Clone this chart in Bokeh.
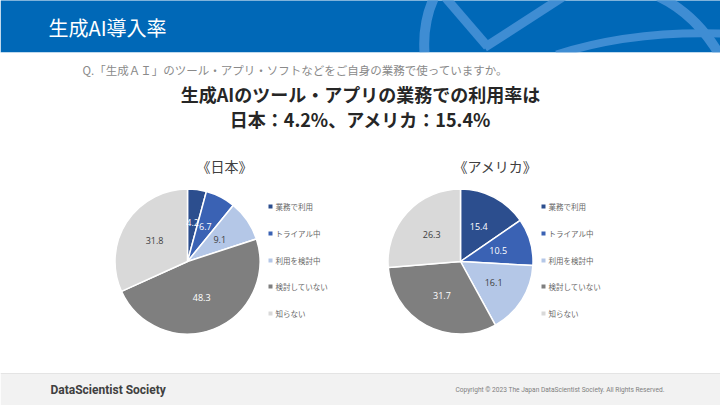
import math
from bokeh.plotting import figure
from bokeh.models import Range1d, ColumnDataSource
from bokeh.core.properties import value
from bokeh.embed import file_html
from bokeh.resources import INLINE

# ---------------- data ----------------
categories = ["業務で利用", "トライアル中", "利用を検討中", "検討していない", "知らない"]
japan_values = [4.2, 6.7, 9.1, 48.3, 31.8]
usa_values = [15.4, 10.5, 16.1, 31.7, 26.3]
slice_colors = ["#2C4E8E", "#3A62B4", "#B4C7E7", "#7F7F7F", "#D9D9D9"]
label_colors = ["#FFFFFF", "#FFFFFF", "#404040", "#FFFFFF", "#404040"]

page_title = "生成AI導入率"
question = "Q.「生成ＡＩ」のツール・アプリ・ソフトなどをご自身の業務で使っていますか。"
headline1 = "生成AIのツール・アプリの業務での利用率は"
headline2 = "日本：4.2%、アメリカ：15.4%"
pie_titles = ["《日本》", "《アメリカ》"]
footer_left = "DataScientist Society"
footer_right = "Copyright © 2023  The Japan DataScientist Society. All Rights Reserved."

JP = value("Noto Sans CJK JP")
NUM = value("Open Sans")

# reference-pixel coordinates -> data coordinates (y measured downward)
def Y(v):
    return 405 - v

p = figure(width=720, height=405, x_range=Range1d(0, 720), y_range=Range1d(0, 405),
           output_backend="svg", toolbar_location=None, min_border=0)
p.axis.visible = False
p.grid.visible = False
p.outline_line_color = None
p.background_fill_color = "white"
p.border_fill_color = "white"

# ---------------- header ----------------
p.quad(left=[0], right=[720], top=[Y(-2)], bottom=[Y(52)], fill_color="#0068B7", line_color=None)
band = "#3F8DD3"
p.quadratic(x0=[434], y0=[Y(-4)], cx=[422], cy=[Y(22)], x1=[424], y1=[Y(52)],
            line_color=band, line_width=10)
p.segment(x0=[444], y0=[Y(-4)], x1=[487], y1=[Y(46)], line_color=band, line_width=9)
p.segment(x0=[484], y0=[Y(47)], x1=[563], y1=[Y(-4)], line_color=band, line_width=9)
p.quadratic(x0=[556], y0=[Y(54)], cx=[630], cy=[Y(30)], x1=[722], y1=[Y(33)],
            line_color=band, line_width=8)
p.quadratic(x0=[658], y0=[Y(-4)], cx=[696], cy=[Y(14)], x1=[720], y1=[Y(56)],
            line_color=band, line_width=10)
p.quad(left=[0], right=[720], top=[Y(52)], bottom=[Y(60)], fill_color="white", line_color=None)
p.text(x=[48], y=[Y(27)], text=[page_title], text_font=JP, text_font_size="20px",
       text_color="white", text_align="left", text_baseline="middle")

# ---------------- question & headline ----------------
p.text(x=[82], y=[Y(69)], text=[question], text_font=JP, text_font_size="11.5px",
       text_color="#8A8A8A", text_align="left", text_baseline="middle")
p.text(x=[360, 360], y=[Y(93), Y(118)], text=[headline1, headline2], text_font=JP,
       text_font_size="18px", text_font_style="bold", text_color="#262626",
       text_align="center", text_baseline="middle")

# ---------------- pies ----------------
R = 72.5
def draw_pie(cx, cy, vals, title, tx, leg_x):
    total = sum(vals)
    starts, ends, lx, ly = [], [], [], []
    cum = 0.0
    for v in vals:
        a0 = math.pi / 2 - 2 * math.pi * cum / total
        cum += v
        a1 = math.pi / 2 - 2 * math.pi * cum / total
        mid = (a0 + a1) / 2
        starts.append(a0)
        ends.append(a1)
        lx.append(cx + 0.54 * R * math.cos(mid))
        ly.append(Y(cy) + 0.54 * R * math.sin(mid))
    src = ColumnDataSource(dict(start=starts, end=ends, color=slice_colors,
                                lx=lx, ly=ly, lab=[f"{v:.1f}" for v in vals],
                                lc=label_colors))
    p.wedge(x=cx, y=Y(cy), radius=R, start_angle="start", end_angle="end",
            direction="clock", fill_color="color", line_color="white",
            line_width=1.5, source=src)
    p.text(x="lx", y="ly", text="lab", text_color="lc", text_font=NUM,
           text_font_size="9px", text_align="center", text_baseline="middle", source=src)
    p.text(x=[tx], y=[Y(165)], text=[title], text_font=JP, text_font_size="14px",
           text_color="#404040", text_align="center", text_baseline="middle")
    rows = [206, 233, 260, 286, 313]
    p.scatter(x=[leg_x] * 5, y=[Y(r) for r in rows], marker="square", size=4,
              fill_color=slice_colors, line_color=None)
    p.text(x=[leg_x + 5] * 5, y=[Y(r) for r in rows], text=categories, text_font=JP,
           text_font_size="7.5px", text_color="#666666", text_align="left",
           text_baseline="middle")

draw_pie(187, 261, japan_values, pie_titles[0], 224, 270)
draw_pie(460, 261, usa_values, pie_titles[1], 495, 543)

# ---------------- footer ----------------
p.quad(left=[0], right=[720], top=[Y(373)], bottom=[Y(410)], fill_color="#F2F2F2",
       line_color=None)
p.segment(x0=[0], y0=[Y(373)], x1=[720], y1=[Y(373)], line_color="#E4E4E4", line_width=1)
p.text(x=[50], y=[Y(389)], text=[footer_left], text_font=value("Roboto"),
       text_font_size="12px", text_font_style="bold", text_color="#404040",
       text_align="left", text_baseline="middle")
p.text(x=[455], y=[Y(389)], text=[footer_right], text_font=value("Roboto"),
       text_font_size="6.6px", text_color="#808080", text_align="left",
       text_baseline="middle")

open("out.html", "w").write(file_html(p, INLINE))
